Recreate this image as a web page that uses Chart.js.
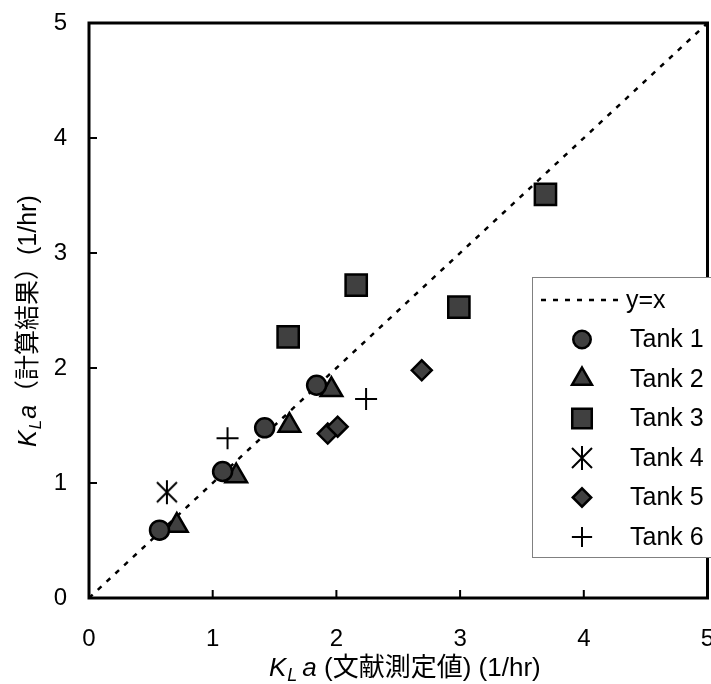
<!DOCTYPE html>
<html>
<head>
<meta charset="utf-8">
<script src="https://cdn.jsdelivr.net/npm/chart.js@4/dist/chart.umd.min.js"></script>
<style>
  body { margin: 0; background: #fff; }
  #chart { display: block; }
</style>
</head>
<body>
<canvas id="chart" width="711" height="684"></canvas>
<script>
var tankNames = ["Tank 1", "Tank 2", "Tank 3", "Tank 4", "Tank 5", "Tank 6"];
var tank1X = [0.57, 1.08, 1.42, 1.84],
  tank1Y = [0.59, 1.1, 1.48, 1.85];
var tank2X = [0.71, 1.19, 1.62, 1.96],
  tank2Y = [0.63, 1.06, 1.5, 1.81];
var tank3X = [1.61, 2.16, 2.99, 3.69],
  tank3Y = [2.27, 2.72, 2.53, 3.51];
var tank4X = [0.63],
  tank4Y = [0.92];
var tank5X = [1.93, 2.01, 2.69],
  tank5Y = [1.43, 1.49, 1.98];
var tank6X = [1.12, 2.24],
  tank6Y = [1.39, 1.73];
var lineX = [0, 5],
  lineY = [0, 5];
var tickValues = [0, 1, 2, 3, 4, 5];

var FONT = "'Liberation Sans', Arial, 'Noto Sans CJK JP', sans-serif";
var FILL = "#404040";

// excel style asterisk (X with a vertical bar)
makeAsterisk = () => {
  let c = document.createElement("canvas");
  c.width = 28;
  c.height = 28;
  let g = c.getContext("2d");
  g.strokeStyle = "#000";
  g.lineWidth = 2;
  g.beginPath();
  g.moveTo(14, 2); g.lineTo(14, 26);
  g.moveTo(4, 4); g.lineTo(24, 24);
  g.moveTo(24, 4); g.lineTo(4, 24);
  g.stroke();
  return c;
};
var asterisk = makeAsterisk();

toPoints = (xs, ys) => xs.map((x, i) => ({ x: x, y: ys[i] }));

var styles = [
  { pointStyle: "circle", radius: 9.5 },
  { pointStyle: "triangle", radius: 12.5 },
  { pointStyle: "rect", radius: 15 },
  { pointStyle: asterisk, radius: 12 },
  { pointStyle: "rectRot", radius: 10 },
  { pointStyle: "cross", radius: 11 },
];
var seriesX = [tank1X, tank2X, tank3X, tank4X, tank5X, tank6X],
  seriesY = [tank1Y, tank2Y, tank3Y, tank4Y, tank5Y, tank6Y];

var datasets = [
  {
    type: "line",
    label: "y=x",
    data: toPoints(lineX, lineY),
    borderColor: "#000",
    borderWidth: 2.5,
    borderDash: [5, 7],
    pointRadius: 0,
    order: 10,
  },
];
tankNames.forEach((name, i) => {
  datasets.push({
    type: "scatter",
    label: name,
    data: toPoints(seriesX[i], seriesY[i]),
    pointStyle: styles[i].pointStyle,
    pointRadius: styles[i].radius,
    pointHoverRadius: styles[i].radius,
    pointBackgroundColor: FILL,
    pointBorderColor: "#000",
    pointBorderWidth: i == 5 ? 2 : 2.5,
    order: 1,
  });
});

drawRich = (ctx, parts, x, y) => {
  parts.forEach((p) => {
    ctx.font = p.font;
    ctx.fillText(p.text, x, y + (p.dy || 0));
    x += ctx.measureText(p.text).width + (p.gap || 0);
  });
};

var framePlugin = {
  id: "frame",
  afterDraw(chart) {
    let ctx = chart.ctx,
      a = chart.chartArea,
      xs = chart.scales.x,
      ys = chart.scales.y;
    ctx.save();
    ctx.strokeStyle = "#000";
    ctx.lineWidth = 3;
    ctx.strokeRect(a.left, a.top, a.right - a.left, a.bottom - a.top);

    // inner tick marks
    ctx.lineWidth = 2;
    ctx.beginPath();
    tickValues.forEach((v) => {
      let px = xs.getPixelForValue(v);
      ctx.moveTo(px, a.bottom);
      ctx.lineTo(px, a.bottom - 8);
      let py = ys.getPixelForValue(v);
      ctx.moveTo(a.left, py);
      ctx.lineTo(a.left + 8, py);
    });
    ctx.stroke();

    // axis titles
    ctx.fillStyle = "#000";
    ctx.textBaseline = "middle";
    ctx.textAlign = "left";
    let it = "italic 26px " + FONT,
      sub = "italic 18px " + FONT,
      rm = "26px " + FONT;
    drawRich(ctx, [
      { text: "K", font: it, gap: 1 },
      { text: "L", font: sub, dy: 7, gap: 5 },
      { text: "a", font: it },
      { text: " (文献測定値) (1/hr)", font: rm },
    ], 269, 669);
    ctx.save();
    ctx.translate(29, 447);
    ctx.rotate(-Math.PI / 2);
    drawRich(ctx, [
      { text: "K", font: "italic 25px " + FONT, gap: 1 },
      { text: "L", font: "italic 17px " + FONT, dy: 7, gap: 1 },
      { text: "a", font: "italic 25px " + FONT },
      { text: "（計算結果）(1/hr)", font: "25px " + FONT },
    ], 0, 0);
    ctx.restore();

    // legend box
    let lx = 532, ly = 277, rowH = 39.5;
    ctx.fillStyle = "#fff";
    ctx.fillRect(lx, ly, 200, 280);
    ctx.strokeStyle = "#808080";
    ctx.lineWidth = 1;
    ctx.strokeRect(lx + 0.5, ly + 0.5, 200, 280);

    let lf = "25px " + FONT;
    chart.data.datasets.forEach((ds, i) => {
      let cy = 300 + rowH * i;
      if (ds.type == "line") {
        ctx.save();
        ctx.strokeStyle = "#000";
        ctx.lineWidth = 2.5;
        ctx.setLineDash([5, 7]);
        ctx.beginPath();
        ctx.moveTo(541, cy);
        ctx.lineTo(622, cy);
        ctx.stroke();
        ctx.restore();
      } else {
        ctx.save();
        ctx.fillStyle = FILL;
        ctx.strokeStyle = "#000";
        ctx.lineWidth = ds.pointBorderWidth;
        Chart.helpers.drawPoint(ctx, {
          pointStyle: ds.pointStyle,
          radius: ds.pointRadius * 0.92,
          borderWidth: ds.pointBorderWidth,
          rotation: 0,
        }, 582, cy);
        ctx.restore();
      }
      ctx.fillStyle = "#000";
      ctx.font = lf;
      ctx.fillText(ds.label, ds.type == "line" ? 626 : 630, cy + 1);
    });
    ctx.restore();
  },
};

var tickFont = { family: FONT, size: 24 };

// the scales must not reserve room for overhanging tick labels
noPad = (s) => {
  s.paddingLeft = s.paddingRight = s.paddingTop = s.paddingBottom = 0;
};

new Chart(document.getElementById("chart"), {
  type: "scatter",
  data: { datasets: datasets },
  options: {
    responsive: false,
    animation: false,
    layout: { autoPadding: false, padding: { top: 23, right: 3.5, left: 0, bottom: 0 } },
    plugins: { legend: { display: false }, tooltip: { enabled: false } },
    scales: {
      x: {
        type: "linear",
        min: 0,
        max: 5,
        afterFit: (s) => { s.height = 86; noPad(s); },
        afterBuildTicks: (s) => { s.ticks = tickValues.map((v) => ({ value: v })); },
        grid: { display: false, drawTicks: false },
        border: { display: false },
        ticks: { color: "#000", font: tickFont, padding: 27 },
      },
      y: {
        type: "linear",
        min: 0,
        max: 5,
        afterFit: (s) => { s.width = 89; noPad(s); },
        afterBuildTicks: (s) => { s.ticks = tickValues.map((v) => ({ value: v })); },
        grid: { display: false, drawTicks: false },
        border: { display: false },
        ticks: { color: "#000", font: tickFont, padding: 22 },
      },
    },
  },
  plugins: [framePlugin],
});
</script>
</body>
</html>
